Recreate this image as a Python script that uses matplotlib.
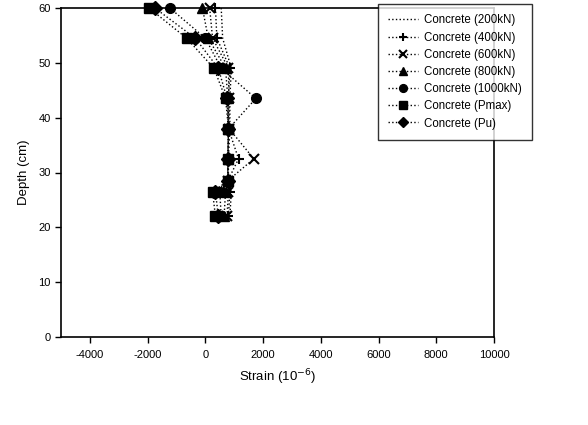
import matplotlib
matplotlib.use('Agg')
import matplotlib.pyplot as plt

plt.rcParams['font.family'] = ['Liberation Sans', 'DejaVu Sans']
plt.rcParams['axes.unicode_minus'] = False

# depth of the gauges (cm)
depth = [60, 54.5, 49, 43.5, 38, 32.5, 28.5, 26.5, 22]

# concrete strain (10^-6) for each load step
s200 = [550, 600, 900, 850, 850, 800, 800, 900, 850]
s400 = [350, 400, 850, 800, 800, 1150, 780, 850, 800]
s600 = [150, 250, 800, 820, 820, 1680, 780, 800, 750]
s800 = [-100, 100, 700, 780, 800, 780, 780, 700, 650]
s1000 = [-1230, 0, 550, 1750, 810, 780, 780, 500, 550]
pmax = [-1950, -650, 300, 700, 800, 780, 780, 250, 350]
pu = [-1750, -350, 450, 750, 800, 780, 780, 350, 450]

labels = ['Concrete (200kN)', 'Concrete (400kN)', 'Concrete (600kN)',
          'Concrete (800kN)', 'Concrete (1000kN)', 'Concrete (Pmax)', 'Concrete (Pu)']
series = [s200, s400, s600, s800, s1000, pmax, pu]
markers = [None, '+', 'x', '^', 'o', 's', 'D']
msizes = [0, 7, 7, 7, 7, 7, 7]

fig = plt.figure(figsize=(5.88, 4.25), dpi=100)
ax = fig.add_axes([61 / 588, 88 / 425, 433 / 588, 329 / 425])

for vals, lab, m, ms in zip(series, labels, markers, msizes):
    ax.plot(vals, depth, linestyle=':', color='black', linewidth=1.0,
            marker=m, markersize=ms, markeredgewidth=1.5 if m in ('+', 'x') else 1.0,
            label=lab, clip_on=False)

ax.set_xlim(-5000, 10000)
ax.set_ylim(0, 60)
ax.set_xticks(range(-4000, 10001, 2000))
ax.set_yticks(range(0, 61, 10))
ax.tick_params(axis='both', labelsize=8, direction='out', length=4, width=1)
ax.tick_params(top=False, right=False)
ax.tick_params(axis='x', pad=5)
for sp in ax.spines.values():
    sp.set_linewidth(1.2)

ax.set_xlabel('Strain (10$^{-6}$)', fontsize=9.5, labelpad=6)
ax.set_ylabel('Depth (cm)', fontsize=9.5, labelpad=6)

leg = ax.legend(loc='upper left', fontsize=8.3, frameon=True, fancybox=False,
                edgecolor='black', handlelength=2.6, labelspacing=0.45,
                borderpad=0.9, handletextpad=0.5, borderaxespad=0,
                markerscale=0.8,
                bbox_to_anchor=((378 - 61) / 433, (337 - 4) / 329))
leg.get_frame().set_linewidth(1.0)
leg.set_clip_on(False)

fig.savefig('out.png', dpi=100)
